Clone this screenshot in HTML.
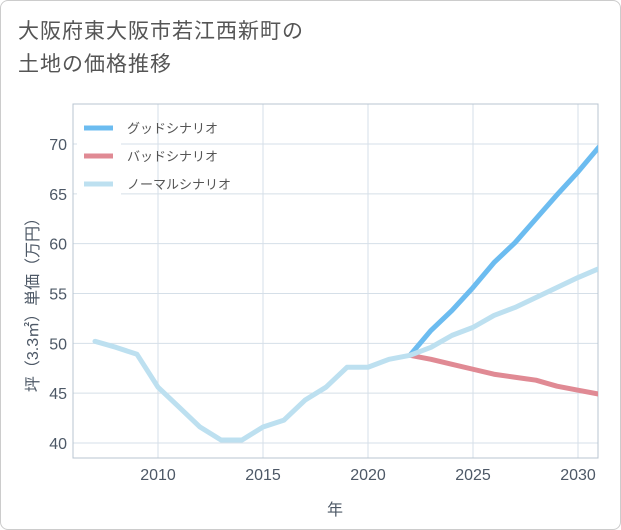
<!DOCTYPE html>
<html><head><meta charset="utf-8"><style>
body{margin:0;background:#fff;font-family:"Liberation Sans","Noto Sans CJK JP",sans-serif}
#wrap{position:relative;width:619px;height:528px;border:1px solid #ccc;border-radius:8px;background:#fff;overflow:hidden}
#title{position:absolute;left:17px;top:14px;font-size:21px;line-height:33px;color:#555;letter-spacing:1px}
</style></head><body>
<div id="wrap">
<div id="title">大阪府東大阪市若江西新町の<br>土地の価格推移</div>
<svg id="chart" width="621" height="530" style="position:absolute;left:0;top:0"><defs><clipPath id="pc"><rect x="72" y="103" width="525" height="354"/></clipPath></defs></svg>
</div>
<script>
const years=[2007,2008,2009,2010,2011,2012,2013,2014,2015,2016,2017,2018,2019,2020,2021,2022,2023,2024,2025,2026,2027,2028,2029,2030,2031];
const normalVals=[50.2,49.6,48.9,45.6,43.6,41.6,40.3,40.3,41.6,42.3,44.3,45.6,47.6,47.6,48.4,48.8,49.6,50.8,51.6,52.8,53.6,54.6,55.6,56.6,57.5];
const goodYears=[2022,2023,2024,2025,2026,2027,2028,2029,2030,2031];
const goodVals=[48.8,51.3,53.3,55.6,58.1,60.1,62.5,64.9,67.2,69.7];
const badVals=[48.8,48.4,47.9,47.4,46.9,46.6,46.3,45.7,45.3,44.9];
const xTicks=[2010,2015,2020,2025,2030];
const yTicks=[40,45,50,55,60,65,70];
const legendLabels=["グッドシナリオ","バッドシナリオ","ノーマルシナリオ"];
const colors=["#6cbcf0","#e08a94","#bde0f0"];

const svg=document.getElementById('chart');const NS='http://www.w3.org/2000/svg';
const L=72,R=597,T=103,B=457;
const x=v=>157+(v-2010)*21;
const y=v=>442-(v-40)*(299/30);
function mk(t,a){const e=document.createElementNS(NS,t);for(const k in a)e.setAttribute(k,a[k]);svg.appendChild(e);return e;}
xTicks.forEach(t=>{const g=mk('line',{x1:x(t),x2:x(t),y1:T,y2:B,stroke:'#d5dfe8','stroke-width':1});


const l=mk('text',{x:x(t),y:B+22,'text-anchor':'middle','font-size':16,fill:'#4d5866'});l.textContent=t;

});
yTicks.forEach(t=>{const g=mk('line',{x1:L,x2:R,y1:y(t),y2:y(t),stroke:'#d5dfe8','stroke-width':1});


const l=mk('text',{x:L-6,y:y(t)+6,'text-anchor':'end','font-size':16,fill:'#4d5866'});l.textContent=t;

});
const fr=mk('rect',{x:L,y:T,width:R-L,height:B-T,fill:'none',stroke:'#b8c4d0','stroke-width':1});


function line(xs,vs,c,name){const p=mk('polyline',{points:xs.map((v,i)=>x(v)+','+y(vs[i])).join(' '),fill:'none',stroke:c,'stroke-width':5,'stroke-linejoin':'round','stroke-linecap':'round','clip-path':'url(#pc)'});

}
line(goodYears,goodVals,colors[0],'good-scenario-line');
line(goodYears,badVals,colors[1],'bad-scenario-line');
line(years,normalVals,colors[2],'normal-scenario-line');
const lb=mk('rect',{x:76,y:112,width:44,height:86,fill:'#fff'});


legendLabels.forEach((s,i)=>{const yy=127+i*28;
const ln=mk('line',{x1:83,x2:112,y1:yy,y2:yy,stroke:colors[i],'stroke-width':5});


const t=mk('text',{x:126,y:yy+5,'font-size':13,fill:'#555'});t.textContent=s;

});
const xt=mk('text',{x:334,y:514,'text-anchor':'middle','font-size':16,fill:'#4d5866'});xt.textContent='年';


const yt=mk('text',{x:0,y:0,'text-anchor':'middle','font-size':16,fill:'#4d5866',transform:'translate(37,300) rotate(-90)'});yt.textContent='坪（3.3㎡）単価（万円）';


</script>
</body></html>
